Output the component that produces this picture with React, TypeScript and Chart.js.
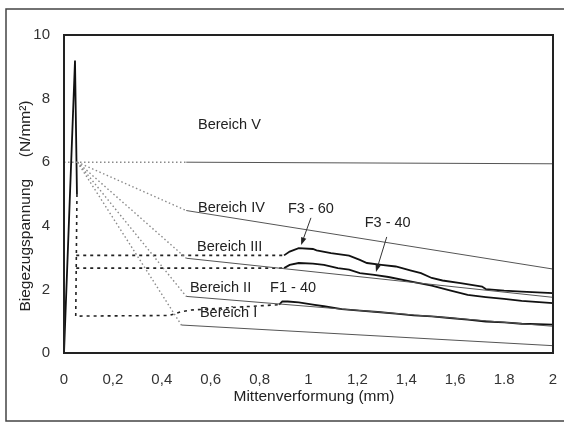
import React, { useEffect, useRef } from "react";
import { Chart, registerables } from "chart.js";

Chart.register(...registerables);

// Axis ticks
const xTickLabels = ["0", "0,2", "0,4", "0,6", "0,8", "1", "1,2", "1,4", "1,6", "1.8", "2"];
const yTickLabels = ["0", "2", "4", "6", "8", "10"];

// Initial peak (solid)
const spikeX = [0, 0.045, 0.053];
const spikeY = [0, 9.2, 5.0];

// Dashed transition parts
const f1DashX = [0.053, 0.048, 0.43, 0.48, 0.52, 0.75, 0.88];
const f1DashY = [5.0, 1.16, 1.18, 1.3, 1.35, 1.46, 1.52];
const f360DashX = [0.05, 0.9];
const f360DashY = [3.07, 3.07];
const f340DashX = [0.05, 0.9];
const f340DashY = [2.67, 2.67];

// Measured curves (solid)
const f360X = [0.9, 0.923, 0.96, 1.018, 1.033, 1.092, 1.166, 1.21, 1.239, 1.298, 1.357, 1.416, 1.46, 1.504, 1.548, 1.622, 1.71, 1.725, 1.8, 1.872, 2.0];
const f360Y = [3.07, 3.19, 3.3, 3.27, 3.23, 3.14, 3.06, 2.93, 2.83, 2.77, 2.72, 2.6, 2.51, 2.36, 2.28, 2.2, 2.09, 2.01, 1.96, 1.93, 1.88];
const f340X = [0.9, 0.923, 0.96, 1.018, 1.063, 1.12, 1.166, 1.21, 1.269, 1.327, 1.416, 1.504, 1.578, 1.651, 1.725, 1.8, 1.872, 2.0];
const f340Y = [2.67, 2.77, 2.83, 2.81, 2.77, 2.67, 2.62, 2.51, 2.46, 2.39, 2.25, 2.12, 1.97, 1.83, 1.76, 1.7, 1.64, 1.57];
const f140X = [0.88, 0.893, 0.915, 0.96, 1.018, 1.063, 1.136, 1.21, 1.283, 1.357, 1.43, 1.504, 1.578, 1.651, 1.725, 1.8, 1.872, 2.0];
const f140Y = [1.52, 1.62, 1.62, 1.59, 1.52, 1.47, 1.38, 1.33, 1.29, 1.24, 1.18, 1.15, 1.1, 1.05, 0.99, 0.96, 0.92, 0.89];

// Bereich boundary lines (first segment dotted)
const bereichVX = [0, 0.5, 2];
const bereichVY = [6, 6, 5.95];
const bereichIVX = [0.055, 0.5, 2];
const bereichIVY = [6, 4.48, 2.64];
const bereichIIIX = [0.055, 0.5, 2];
const bereichIIIY = [6, 2.98, 1.75];
const bereichIIX = [0.055, 0.5, 2];
const bereichIIY = [6, 1.78, 0.84];
const bereichIX = [0.055, 0.48, 2];
const bereichIY = [6, 0.88, 0.23];

// Text labels in data coordinates (left, middle)
const labelTexts = ["Bereich V", "Bereich IV", "F3 - 60", "F3 - 40", "Bereich III", "Bereich II", "F1 - 40", "Bereich I"];
const labelX = [0.548, 0.548, 0.916, 1.23, 0.544, 0.515, 0.843, 0.556];
const labelY = [7.17, 4.55, 4.53, 4.09, 3.33, 2.04, 2.04, 1.27];

// Arrows
const arrowFromX = [1.01, 1.32];
const arrowFromY = [4.25, 3.65];
const arrowToX = [0.97, 1.276];
const arrowToY = [3.4, 2.55];

const zip = (xs: number[], ys: number[]) => xs.map((x, i) => ({ x, y: ys[i] }));

const FONT = "'Liberation Sans', Arial, sans-serif";

export default function App() {
  const ref = useRef<HTMLCanvasElement | null>(null);

  useEffect(() => {
    if (!ref.current) return;

    const solid = (xs: number[], ys: number[]) => ({
      data: zip(xs, ys),
      showLine: true,
      borderColor: "#111",
      borderWidth: 1.8,
      pointRadius: 0,
      fill: false,
    });
    const dashed = (xs: number[], ys: number[]) => ({
      data: zip(xs, ys),
      showLine: true,
      borderColor: "#222",
      borderWidth: 1.6,
      borderDash: [3, 4],
      pointRadius: 0,
      fill: false,
    });
    const bereich = (xs: number[], ys: number[]) => ({
      data: zip(xs, ys),
      showLine: true,
      borderColor: "#555",
      borderWidth: 1,
      pointRadius: 0,
      fill: false,
      segment: {
        borderDash: (c: any) => (c.p0DataIndex === 0 ? [1.5, 2.5] : undefined),
        borderColor: (c: any) => (c.p0DataIndex === 0 ? "#8a8a8a" : "#555"),
        borderWidth: (c: any) => (c.p0DataIndex === 0 ? 1.4 : 1),
      },
    });

    const decor = {
      id: "decor",
      beforeDraw(chart: any) {
        const ctx = chart.ctx;
        ctx.save();
        ctx.strokeStyle = "#444";
        ctx.lineWidth = 1.5;
        ctx.beginPath();
        ctx.moveTo(564, 9);
        ctx.lineTo(6, 9);
        ctx.lineTo(6, 421);
        ctx.lineTo(564, 421);
        ctx.stroke();
        ctx.restore();
      },
      afterDraw(chart: any) {
        const ctx = chart.ctx;
        const xs = chart.scales.x;
        const ys = chart.scales.y;
        const a = chart.chartArea;
        ctx.save();
        // plot frame
        ctx.strokeStyle = "#222";
        ctx.lineWidth = 2;
        ctx.strokeRect(a.left, a.top, a.right - a.left, a.bottom - a.top);
        // labels
        ctx.fillStyle = "#222";
        ctx.font = `14.5px ${FONT}`;
        ctx.textAlign = "left";
        ctx.textBaseline = "middle";
        labelTexts.forEach((t, i) => {
          ctx.fillText(t, xs.getPixelForValue(labelX[i]), ys.getPixelForValue(labelY[i]));
        });
        // arrows
        ctx.strokeStyle = "#333";
        ctx.fillStyle = "#222";
        ctx.lineWidth = 1;
        arrowFromX.forEach((_, i) => {
          const x0 = xs.getPixelForValue(arrowFromX[i]);
          const y0 = ys.getPixelForValue(arrowFromY[i]);
          const x1 = xs.getPixelForValue(arrowToX[i]);
          const y1 = ys.getPixelForValue(arrowToY[i]);
          const ang = Math.atan2(y1 - y0, x1 - x0);
          const L = 8;
          const W = 0.35;
          ctx.beginPath();
          ctx.moveTo(x0, y0);
          ctx.lineTo(x1 - Math.cos(ang) * L * 0.8, y1 - Math.sin(ang) * L * 0.8);
          ctx.stroke();
          ctx.beginPath();
          ctx.moveTo(x1, y1);
          ctx.lineTo(x1 - L * Math.cos(ang - W), y1 - L * Math.sin(ang - W));
          ctx.lineTo(x1 - L * Math.cos(ang + W), y1 - L * Math.sin(ang + W));
          ctx.closePath();
          ctx.fill();
        });
        // axis titles
        ctx.fillStyle = "#222";
        ctx.font = `15.5px ${FONT}`;
        ctx.textAlign = "center";
        ctx.textBaseline = "middle";
        ctx.fillText("Mittenverformung (mm)", 314, 397);
        ctx.translate(26, 206);
        ctx.rotate(-Math.PI / 2);
        ctx.fillText("Biegezugspannung     (N/mm²)", 0, 0);
        ctx.restore();
      },
    };

    const chart = new Chart(ref.current, {
      type: "scatter",
      data: {
        datasets: [
          bereich(bereichVX, bereichVY),
          bereich(bereichIVX, bereichIVY),
          bereich(bereichIIIX, bereichIIIY),
          bereich(bereichIIX, bereichIIY),
          bereich(bereichIX, bereichIY),
          solid(spikeX, spikeY),
          dashed(f1DashX, f1DashY),
          dashed(f360DashX, f360DashY),
          dashed(f340DashX, f340DashY),
          solid(f360X, f360Y),
          solid(f340X, f340Y),
          solid(f140X, f140Y),
        ] as any,
      },
      options: {
        animation: false,
        responsive: false,
        devicePixelRatio: 1,
        layout: { padding: { left: 0, right: 11, top: 35, bottom: 0 } },
        plugins: { legend: { display: false }, tooltip: { enabled: false } },
        scales: {
          x: {
            type: "linear",
            min: 0,
            max: 2,
            afterFit: (s: any) => {
              s.height = 71;
              s.paddingLeft = 0;
              s.paddingRight = 0;
            },
            afterBuildTicks: (s: any) => {
              s.ticks = xTickLabels.map((_, i) => ({ value: i * 0.2 }));
            },
            grid: { display: false, drawTicks: false },
            border: { display: true, color: "#222", width: 2 },
            ticks: {
              color: "#333",
              font: { family: FONT, size: 15 },
              padding: 18,
              maxRotation: 0,
              autoSkip: false,
              callback: (_v: any, i: number) => xTickLabels[i],
            },
          },
          y: {
            type: "linear",
            min: 0,
            max: 10,
            afterFit: (s: any) => {
              s.width = 64;
              s.paddingTop = 0;
              s.paddingBottom = 0;
            },
            afterBuildTicks: (s: any) => {
              s.ticks = yTickLabels.map((t) => ({ value: Number(t) }));
            },
            grid: { display: false, drawTicks: false },
            border: { display: true, color: "#222", width: 2 },
            ticks: {
              color: "#333",
              font: { family: FONT, size: 15 },
              padding: 14,
              autoSkip: false,
              callback: (_v: any, i: number) => yTickLabels[i],
            },
          },
        },
      },
      plugins: [decor],
    });
    return () => chart.destroy();
  }, []);

  return (
    <div style={{ position: "absolute", left: 0, top: 0, width: 564, height: 424, background: "#fff" }}>
      <canvas ref={ref} width={564} height={424} style={{ display: "block" }} />
    </div>
  );
}
